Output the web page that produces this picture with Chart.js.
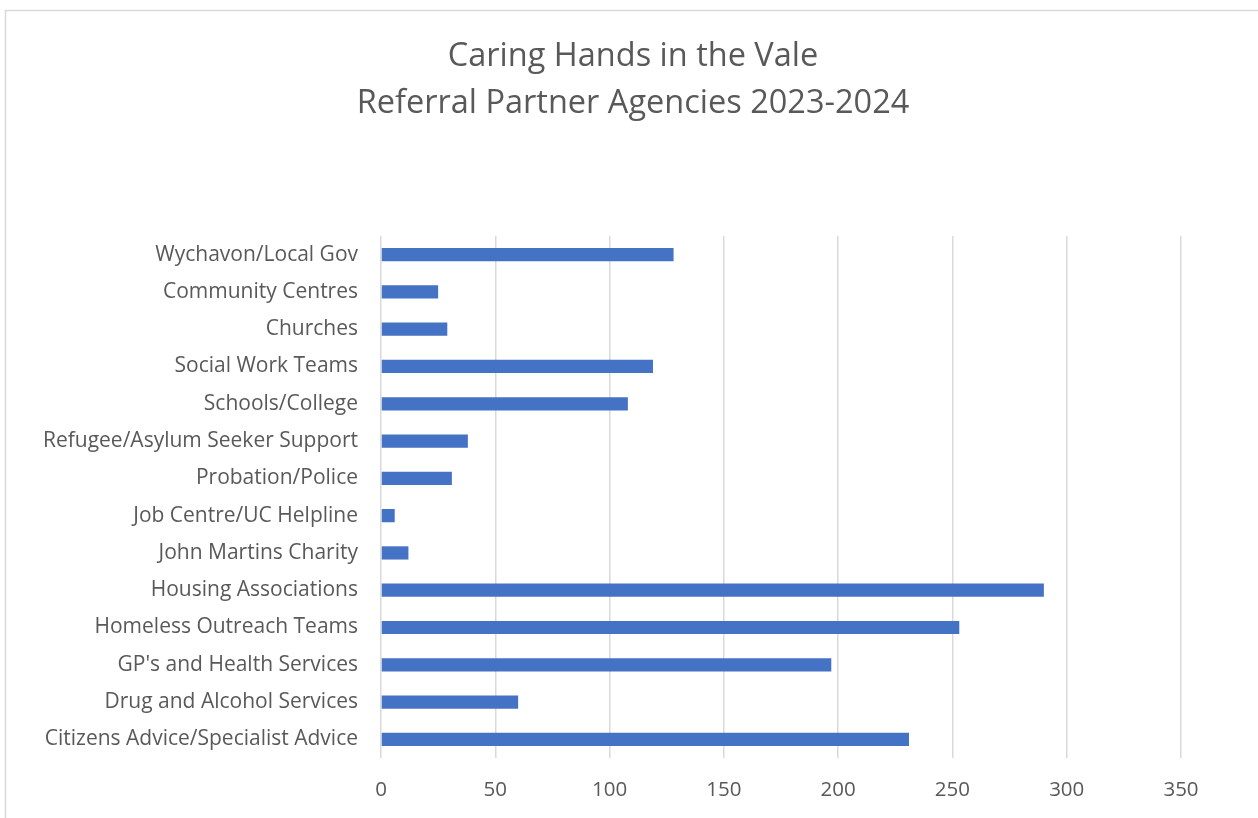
<!DOCTYPE html>
<html>
<head>
<meta charset="utf-8">
<script src="https://cdn.jsdelivr.net/npm/chart.js@4.4.1/dist/chart.umd.min.js"></script>
<style>
  html, body { margin: 0; padding: 0; background: #ffffff; }
  #wrap { position: absolute; left: 0; top: 0; width: 1258px; height: 818px; }
</style>
</head>
<body>
<div id="wrap"><canvas id="c" width="1258" height="818"></canvas></div>
<script>
const titleLines = ["Caring Hands in the Vale", "Referral Partner Agencies 2023-2024"];
const categories = [
  "Wychavon/Local Gov",
  "Community Centres",
  "Churches",
  "Social Work Teams",
  "Schools/College",
  "Refugee/Asylum Seeker Support",
  "Probation/Police",
  "Job Centre/UC Helpline",
  "John Martins Charity",
  "Housing Associations",
  "Homeless Outreach Teams",
  "GP's and Health Services",
  "Drug and Alcohol Services",
  "Citizens Advice/Specialist Advice"
];
const referrals = [128, 25, 29, 119, 108, 38, 31, 6, 12, 290, 253, 197, 60, 231];
const xTicks = [0, 50, 100, 150, 200, 250, 300, 350];

const FONT = "Open Sans";
const TXT = "#595959";

const borderPlugin = {
  id: 'frame',
  beforeDraw(chart) {
    const ctx = chart.ctx;
    ctx.save();
    ctx.fillStyle = '#ffffff';
    ctx.fillRect(0, 0, chart.width, chart.height);
    ctx.strokeStyle = '#d9d9d9';
    ctx.lineWidth = 1.5;
    ctx.beginPath();
    ctx.moveTo(5.5, chart.height + 2);
    ctx.lineTo(5.5, 10.5);
    ctx.lineTo(chart.width + 2, 10.5);
    ctx.stroke();
    ctx.restore();
  },
  afterLayout(chart) {
    // the chart frame runs past the right edge; centre the title on the frame
    const tb = chart.titleBlock;
    if (tb) {
      tb.left = 0;
      tb.right = chart.width + 8;
      tb.width = tb.right - tb.left;
    }
  }
};

new Chart(document.getElementById('c'), {
  type: 'bar',
  data: {
    labels: categories,
    datasets: [{
      data: referrals,
      backgroundColor: '#4472C4',
      borderWidth: 0,
      barPercentage: 0.355,
      categoryPercentage: 1.0
    }]
  },
  options: {
    indexAxis: 'y',
    responsive: false,
    animation: false,
    layout: { padding: { left: 0, right: 77, top: 0, bottom: 0 } },
    plugins: {
      legend: { display: false },
      tooltip: { enabled: false },
      title: {
        display: true,
        text: titleLines,
        color: TXT,
        font: { family: FONT, size: 32.5, weight: 'normal', lineHeight: 1.446 },
        padding: { top: 33, bottom: 109 }
      }
    },
    scales: {
      x: {
        min: 0,
        max: 350,
        afterBuildTicks(scale) { scale.ticks = xTicks.map(v => ({ value: v })); },
        afterFit(scale) { scale.height = 60; },
        grid: { color: '#d9d9d9', lineWidth: 1.5, drawTicks: false },
        border: { display: false },
        ticks: {
          color: TXT,
          font: { family: FONT, size: 20.5 },
          padding: 20,
          maxRotation: 0
        }
      },
      y: {
        afterFit(scale) { scale.width = 381; },
        grid: { display: false, drawTicks: false },
        border: { display: false },
        ticks: {
          color: TXT,
          font: { family: FONT, size: 21 },
          padding: 23,
          autoSkip: false
        }
      }
    }
  },
  plugins: [borderPlugin]
});
</script>
</body>
</html>
